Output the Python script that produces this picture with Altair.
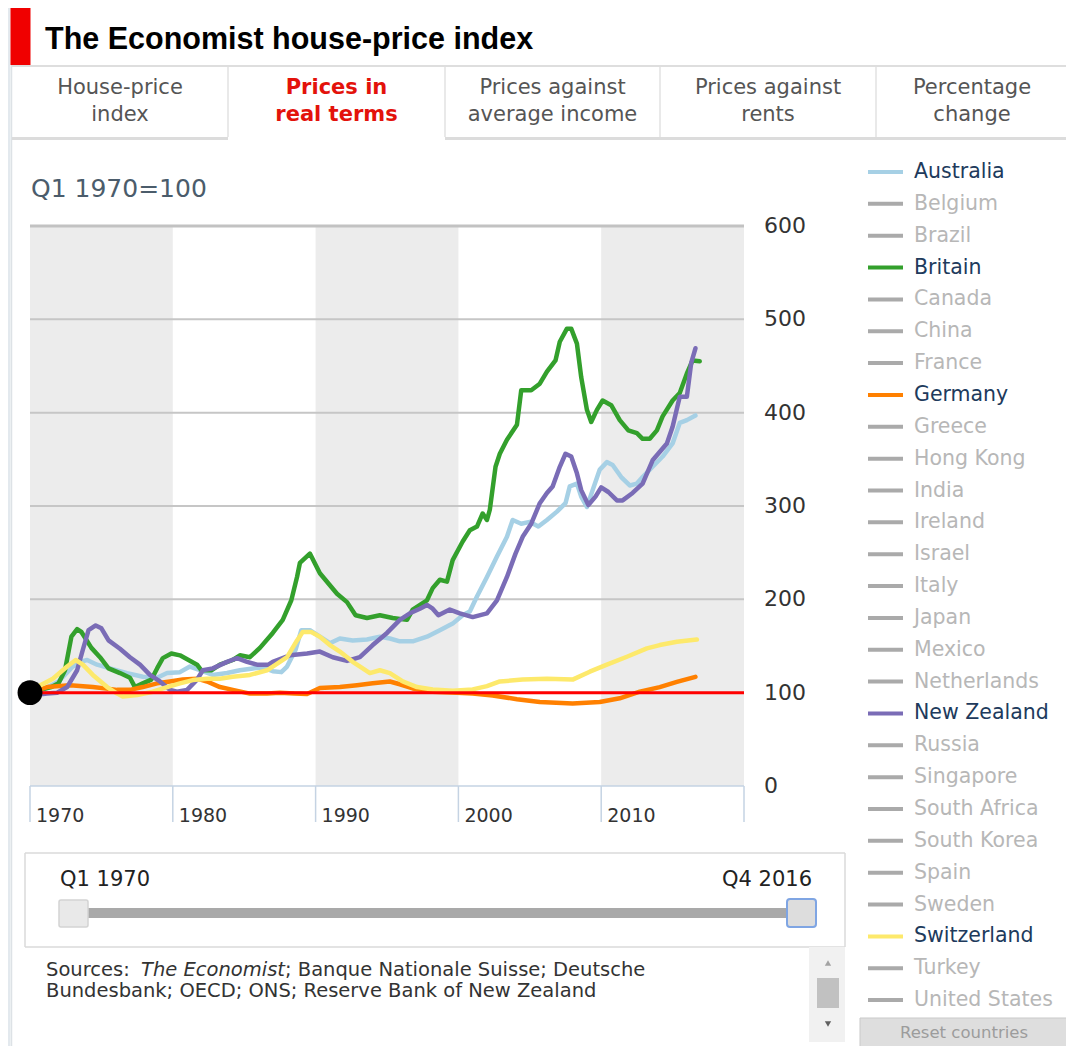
import altair as alt
import pandas as pd

# ---------------- data ----------------
countries = ["Australia", "Belgium", "Brazil", "Britain", "Canada", "China", "France",
             "Germany", "Greece", "Hong Kong", "India", "Ireland", "Israel", "Italy",
             "Japan", "Mexico", "Netherlands", "New Zealand", "Russia", "Singapore",
             "South Africa", "South Korea", "Spain", "Sweden", "Switzerland", "Turkey",
             "United States"]
selected = ["Australia", "Britain", "Germany", "New Zealand", "Switzerland"]

australia_years = [1970, 1970.5, 1971, 1971.5, 1972, 1972.5, 1973, 1973.5, 1974, 1974.7,
                   1975.6, 1976.8, 1977.9, 1978.9, 1979.6, 1980.5, 1981.2, 1981.9, 1982.8, 1983.8,
                   1984.7, 1985.6, 1986.3, 1987.0, 1987.6, 1988.0, 1988.6, 1989.0, 1989.6, 1990.3,
                   1991.0, 1991.7, 1992.6, 1993.6, 1994.5, 1995.2, 1995.9, 1996.8, 1997.8, 1998.7,
                   1999.6, 2000.3, 2000.8, 2001.3, 2002.0, 2002.7, 2003.4, 2003.8, 2004.4, 2005.0,
                   2005.6, 2006.2, 2006.9, 2007.5, 2007.8, 2008.3, 2008.6, 2009.0, 2009.4, 2009.9,
                   2010.4, 2010.8, 2011.4, 2012.0, 2012.5, 2012.9, 2013.6, 2014.3, 2015.0, 2015.5,
                   2016.0, 2016.6]
australia_index = [100, 101, 104, 108, 112, 120, 128, 133, 135, 130,
                   126, 121, 117, 116, 121, 122, 128, 124, 119, 121,
                   124, 126, 127, 123, 122, 128, 146, 167, 167, 160,
                   153, 158, 156, 157, 160, 158, 155, 155, 160, 167,
                   174, 183, 187, 203, 224, 246, 267, 285, 281, 283,
                   278, 285, 294, 303, 321, 324, 310, 299, 317, 339,
                   347, 344, 331, 322, 324, 331, 342, 353, 367, 389,
                   392, 397]

britain_years = [1970, 1970.5, 1971, 1971.5, 1972, 1972.45, 1972.9, 1973.3, 1973.6, 1974.3,
                 1974.9, 1975.5, 1976.3, 1977.0, 1977.35, 1977.9, 1978.5, 1978.9, 1979.3, 1979.9,
                 1980.5, 1981.1, 1981.7, 1982.0, 1982.7, 1983.3, 1984.2, 1984.7, 1985.4, 1986.1,
                 1987.0, 1987.7, 1988.3, 1988.7, 1988.9, 1989.6, 1990.3, 1990.9, 1991.5, 1992.2,
                 1992.8, 1993.6, 1994.5, 1995.4, 1996.4, 1996.8, 1997.8, 1998.2, 1998.7, 1999.2,
                 1999.6, 2000.3, 2000.8, 2001.3, 2001.7, 2002.0, 2002.2, 2002.6, 2002.9, 2003.4,
                 2004.1, 2004.4, 2005.1, 2005.7, 2006.2, 2006.8, 2007.1, 2007.6, 2007.9, 2008.3,
                 2008.6, 2009.0, 2009.3, 2009.7, 2010.1, 2010.7, 2011.3, 2011.9, 2012.5, 2012.9,
                 2013.4, 2013.9, 2014.3, 2015.0, 2015.5, 2016.0, 2016.4, 2016.9]
britain_index = [100, 102, 104, 106, 110, 124, 160, 168, 165, 148,
                 138, 126, 121, 116, 106, 110, 114, 126, 137, 142,
                 140, 135, 130, 124, 124, 130, 135, 140, 138, 148,
                 164, 178, 199, 224, 239, 249, 228, 217, 206, 197,
                 183, 180, 183, 180, 178, 189, 199, 212, 221, 219,
                 242, 262, 274, 278, 292, 285, 296, 342, 356, 371,
                 387, 424, 424, 431, 444, 456, 476, 490, 490, 474,
                 438, 403, 390, 403, 413, 408, 392, 381, 378, 372,
                 372, 381, 396, 413, 421, 442, 456, 455]

germany_years = [1970, 1971.2, 1972.8, 1974.4, 1976.1, 1977.0, 1977.9, 1978.9, 1979.8, 1980.7,
                 1981.7, 1982.4, 1983.3, 1984.2, 1985.4, 1986.6, 1987.5, 1988.5, 1989.4, 1990.3,
                 1991.7, 1992.9, 1994.0, 1995.2, 1995.9, 1996.8, 1998.2, 1999.9, 2001.0, 2002.4,
                 2004.1, 2005.7, 2008.0, 2009.9, 2011.3, 2012.7, 2014.1, 2015.3, 2016.6]
germany_index = [100, 106, 108, 106, 103, 103, 106, 110, 112, 114,
                 115, 112, 106, 103, 99, 99, 100, 99, 98.5, 105,
                 106, 108, 110, 112, 109, 104.5, 101, 100, 99, 97,
                 93, 90, 88.5, 90, 94, 101, 106, 111.5, 117]

new_zealand_years = [1970, 1970.6, 1971.2, 1971.9, 1972.6, 1973.3, 1973.7, 1974.1, 1974.6, 1975.0,
                     1975.5, 1976.3, 1977.0, 1977.7, 1978.4, 1979.1, 1979.8, 1980.3, 1981.0, 1981.7,
                     1982.1, 1982.8, 1983.8, 1984.5, 1985.2, 1985.9, 1986.7, 1987.0, 1988.2, 1989.4,
                     1990.3, 1991.2, 1992.2, 1993.1, 1994.0, 1995.0, 1995.9, 1996.6, 1997.3, 1997.8,
                     1998.2, 1998.6, 1999.4, 2000.1, 2001.0, 2002.0, 2002.7, 2003.4, 2004.0, 2004.5,
                     2005.1, 2005.7, 2006.2, 2006.6, 2007.1, 2007.5, 2007.9, 2008.3, 2008.6, 2009.1,
                     2009.6, 2010.0, 2010.5, 2011.1, 2011.5, 2012.2, 2012.9, 2013.6, 2014.6, 2015.0,
                     2015.5, 2016.0, 2016.3, 2016.6]
new_zealand_index = [100, 98, 99, 100, 106, 124, 146, 167, 172, 169,
                     156, 147, 138, 130, 119, 112, 103, 101, 103, 114,
                     124, 126, 133, 137, 133, 130, 130, 133, 140, 142,
                     144, 138, 134, 138, 151, 164, 178, 185, 190, 194,
                     190, 183, 189, 185, 181, 185, 199, 224, 249, 267,
                     281, 303, 314, 321, 342, 356, 353, 335, 317, 301,
                     310, 320, 315, 306, 306, 314, 324, 349, 367, 385,
                     417, 417, 453, 469]

switzerland_years = [1970, 1970.5, 1971.6, 1972.6, 1973.2, 1973.7, 1974.4, 1975.4, 1976.1, 1976.5,
                     1977.5, 1978.6, 1979.6, 1980.5, 1981.4, 1982.4, 1983.3, 1984.2, 1985.4, 1986.6,
                     1987.0, 1988.0, 1988.7, 1989.1, 1989.7, 1990.3, 1991.0, 1991.7, 1992.6, 1993.3,
                     1993.8, 1994.5, 1995.2, 1996.1, 1997.1, 1998.2, 1999.6, 2001.0, 2002.0, 2002.9,
                     2004.5, 2006.2, 2008.0, 2009.2, 2010.4, 2011.8, 2013.2, 2014.1, 2015.3, 2016.7]
switzerland_index = [100, 106, 115, 128, 135, 130, 119, 106, 99, 96,
                     97.5, 101, 106, 110, 113.5, 115, 115, 117, 119, 124,
                     128, 138, 156, 165, 165, 160, 151, 144, 133, 126,
                     121, 124, 121, 112, 106, 103.5, 102, 103.5, 107, 112,
                     114, 115, 114, 122.5, 130, 138.5, 147.5, 151, 154.5, 157]

y_ticks = [0, 100, 200, 300, 400, 500, 600]
grid_values = [100, 200, 300, 400, 500, 600]
label_years = [1970, 1980, 1990, 2000, 2010]
decade_ticks = [1970, 1980, 1990, 2000, 2010, 2020]
band_starts = [1970, 1990, 2010]
band_ends = [1980, 2000, 2020]
base_year = [1970]
base_value = [100]

title_text = "The Economist house-price index"
tab_labels = [["House-price", "index"], ["Prices in", "real terms"],
              ["Prices against", "average income"], ["Prices against", "rents"],
              ["Percentage", "change"]]
active_tab = 1
unit_text = "Q1 1970=100"
slider_start = "Q1 1970"
slider_end = "Q4 2016"
source_parts = ["Sources:", "The Economist", "; Banque Nationale Suisse; Deutsche"]
source_line2 = "Bundesbank; OECD; ONS; Reserve Bank of New Zealand"
reset_label = "Reset countries"

# ---------------- styles / layout ----------------
series_colors = {"Australia": "#a6d0e5", "Britain": "#33a02c", "Germany": "#ff8000",
                 "New Zealand": "#7a6cb6", "Switzerland": "#fde96b"}
FONT = "DejaVu Sans"
W, H = 714, 560
OX, OY = 30, 226          # screen position of the plot origin
LEG_TOP, LEG_STEP = 172, 31.85
AXIS_BLUE = "#c5d3e3"
GRID_GREY = "#c6c6c6"


def px(sx):
    return sx - OX


def py(sy):
    return sy - OY


# ---------------- tables ----------------
series = [("Australia", australia_years, australia_index),
          ("Britain", britain_years, britain_index),
          ("Germany", germany_years, germany_index),
          ("New Zealand", new_zealand_years, new_zealand_index),
          ("Switzerland", switzerland_years, switzerland_index)]
rows = []
for name, yrs, vals in series:
    for yv, vv in zip(yrs, vals):
        rows.append({"country": name, "year": yv, "price": vv})
lines_df = pd.DataFrame(rows)
bands_df = pd.DataFrame({"start": band_starts, "end": band_ends})
grid_df = pd.DataFrame({"v": grid_values})
ticks_df = pd.DataFrame({"year": decade_ticks})
ylab_df = pd.DataFrame({"v": y_ticks, "label": [str(v) for v in y_ticks]})
xlab_df = pd.DataFrame({"year": label_years, "label": [str(v) for v in label_years]})
base_df = pd.DataFrame({"year": base_year, "price": base_value})
legend_df = pd.DataFrame({
    "country": countries,
    "swatch": [series_colors.get(c, "#aaaaaa") for c in countries],
    "label_color": ["#203a5c" if c in selected else "#b7b7b7" for c in countries],
})
dummy = pd.DataFrame({"d": [0]})

x_scale = alt.Scale(domain=[1970, 2020], nice=False, zero=False)
y_scale = alt.Scale(domain=[0, 600], nice=False, zero=False)

# ---------------- main plot ----------------
bands = alt.Chart(bands_df).mark_rect(color="#ececec").encode(
    x=alt.X("start:Q", scale=x_scale, axis=None), x2="end:Q",
    y=alt.value(1), y2=alt.value(H))
grid = alt.Chart(grid_df).mark_rule(color=GRID_GREY, strokeWidth=2).encode(
    y=alt.Y("v:Q", scale=y_scale, axis=None), x=alt.value(0), x2=alt.value(W))
x_base = alt.Chart(dummy).mark_rule(color=AXIS_BLUE, strokeWidth=1.5).encode(
    x=alt.value(0), x2=alt.value(W), y=alt.value(H))
ticks = alt.Chart(ticks_df).mark_rule(color=AXIS_BLUE, strokeWidth=1.5).encode(
    x=alt.X("year:Q", scale=x_scale, axis=None), y=alt.value(H), y2=alt.value(H + 36))
x_labels = alt.Chart(xlab_df).mark_text(
    align="left", baseline="top", dx=6, font=FONT, fontSize=19, color="#333333").encode(
    x=alt.X("year:Q", scale=x_scale, axis=None), y=alt.value(H + 21), text="label:N")
y_labels = alt.Chart(ylab_df).mark_text(
    align="left", baseline="middle", font=FONT, fontSize=22, color="#333333").encode(
    y=alt.Y("v:Q", scale=y_scale, axis=None), x=alt.value(W + 20), text="label:N")
lines = alt.Chart(lines_df).mark_line(strokeWidth=4.5, strokeJoin="round", strokeCap="round").encode(
    x=alt.X("year:Q", scale=x_scale, axis=None),
    y=alt.Y("price:Q", scale=y_scale, axis=None),
    color=alt.Color("country:N", scale=alt.Scale(domain=selected,
                                                 range=[series_colors[c] for c in selected]),
                    legend=None),
)
base_line = alt.Chart(base_df).mark_rule(color="#ff0000", strokeWidth=3).encode(
    y=alt.Y("price:Q", scale=y_scale, axis=None), x=alt.value(0), x2=alt.value(W))
base_dot = alt.Chart(base_df).mark_circle(size=620, color="black", opacity=1).encode(
    x=alt.X("year:Q", scale=x_scale, axis=None), y=alt.Y("price:Q", scale=y_scale, axis=None))

# ---------------- country list ----------------
leg_base = alt.Chart(legend_df).transform_window(
    row="row_number()"
).transform_calculate(
    ly=f"{py(LEG_TOP)} + (datum.row - 1) * {LEG_STEP}"
)
leg_sw = leg_base.mark_rule(strokeWidth=4).encode(
    x=alt.value(px(868)), x2=alt.value(px(903)),
    y=alt.Y("ly:Q", scale=None, axis=None),
    color=alt.Color("swatch:N", scale=None))
leg_tx = leg_base.mark_text(align="left", baseline="middle", font=FONT, fontSize=20.5).encode(
    x=alt.value(px(914)), y=alt.Y("ly:Q", scale=None, axis=None),
    text="country:N", color=alt.Color("label_color:N", scale=None))


# ---------------- page furniture ----------------
def rect(sx1, sx2, sy1, sy2, **kw):
    return alt.Chart(dummy).mark_rect(**kw).encode(
        x=alt.value(px(sx1)), x2=alt.value(px(sx2)), y=alt.value(py(sy1)), y2=alt.value(py(sy2)))


def hline(sx1, sx2, sy, color, width):
    return alt.Chart(dummy).mark_rule(color=color, strokeWidth=width).encode(
        x=alt.value(px(sx1)), x2=alt.value(px(sx2)), y=alt.value(py(sy)))


def vline(sx, sy1, sy2, color, width):
    return alt.Chart(dummy).mark_rule(color=color, strokeWidth=width).encode(
        x=alt.value(px(sx)), y=alt.value(py(sy1)), y2=alt.value(py(sy2)))


def label(s, sx, sy, **kw):
    opts = dict(font=FONT, baseline="alphabetic", align="left")
    opts.update(kw)
    return alt.Chart(dummy).mark_text(text=s, **opts).encode(
        x=alt.value(px(sx)), y=alt.value(py(sy)))


deco = []
deco.append(rect(8, 10.5, 8, 1046, color="#e3e9ee"))
deco.append(rect(10.5, 30.5, 8, 65, color="#f00000"))
deco.append(label(title_text, 45, 49, font="Liberation Sans", fontWeight="bold",
                  fontSize=30.5, color="#000000"))
deco.append(hline(11, 1068, 66, "#dedede", 2))
deco.append(vline(11.5, 66, 1046, "#dde2e6", 1.5))

tab_edges = [12, 228, 445, 660, 876, 1068]
for i, lines_txt in enumerate(tab_labels):
    cx = (tab_edges[i] + tab_edges[i + 1]) / 2
    is_active = i == active_tab
    for j, t in enumerate(lines_txt):
        deco.append(label(t, cx, 94 + 27 * j, align="center", fontSize=21,
                          color="#e3120b" if is_active else "#555555",
                          fontWeight="bold" if is_active else "normal"))
    if not is_active:
        deco.append(hline(tab_edges[i], tab_edges[i + 1], 138.5, "#dcdcdc", 3))
for e in tab_edges[1:-1]:
    deco.append(vline(e, 67, 137, "#e2e2e2", 1.5))

deco.append(label(unit_text, 31, 197, fontSize=25, color="#4b5c6b"))

# slider panel
deco.append(hline(25, 845, 853, "#dadada", 1.5))
deco.append(hline(25, 845, 947, "#dadada", 1.5))
deco.append(vline(25, 853, 947, "#dadada", 1.5))
deco.append(vline(845, 853, 947, "#dadada", 1.5))
deco.append(label(slider_start, 60, 886, fontSize=21, color="#222222"))
deco.append(label(slider_end, 812, 886, align="right", fontSize=21, color="#222222"))
deco.append(rect(82, 790, 908, 918, color="#a9a9a9"))
deco.append(rect(59, 88, 900, 927, fill="#e9e9e9", stroke="#d3d3d3", strokeWidth=1.5,
                 cornerRadius=2))
deco.append(rect(787, 816, 899, 927, fill="#dddddd", stroke="#7fa5e3", strokeWidth=2,
                 cornerRadius=3))

# sources
deco.append(label(source_parts[0], 46, 976, fontSize=19.5, color="#333333"))
deco.append(label(source_parts[1], 141, 976, fontSize=19.5, color="#333333", fontStyle="italic"))
deco.append(label(source_parts[2], 285, 976, fontSize=19.5, color="#333333"))
deco.append(label(source_line2, 46, 997, fontSize=19.5, color="#333333"))
deco.append(rect(809, 845, 947, 1042, color="#f1f1f1"))
deco.append(rect(817, 839, 978, 1008, color="#c1c1c1"))
deco.append(alt.Chart(dummy).mark_point(shape="triangle-up", filled=True, size=40,
                                        color="#a3a3a3", opacity=1).encode(
    x=alt.value(px(828)), y=alt.value(py(963))))
deco.append(alt.Chart(dummy).mark_point(shape="triangle-down", filled=True, size=40,
                                        color="#606060", opacity=1).encode(
    x=alt.value(px(828)), y=alt.value(py(1024))))

# reset button
deco.append(rect(860, 1068, 1018, 1050, fill="#dedede", stroke="#c9c9c9", strokeWidth=1))
deco.append(label(reset_label, 964, 1038, align="center", fontSize=16.5, color="#9c9c9c"))

# top edge of the plot frame (600 gridline), drawn last as a filled strip
deco.append(rect(30, 744, 224.5, 227.5, color="#c2c2c2"))

chart = alt.layer(bands, grid, x_base, ticks, x_labels, y_labels, lines, base_line,
                  base_dot, leg_sw, leg_tx, *deco).properties(
    width=W, height=H,
    padding={"left": 22, "top": 218, "right": 322, "bottom": 260},
    autosize=alt.AutoSizeParams(type="none"),
).configure_view(stroke=None)

chart.save("out.html", embed_options={"renderer": "svg", "actions": False})
